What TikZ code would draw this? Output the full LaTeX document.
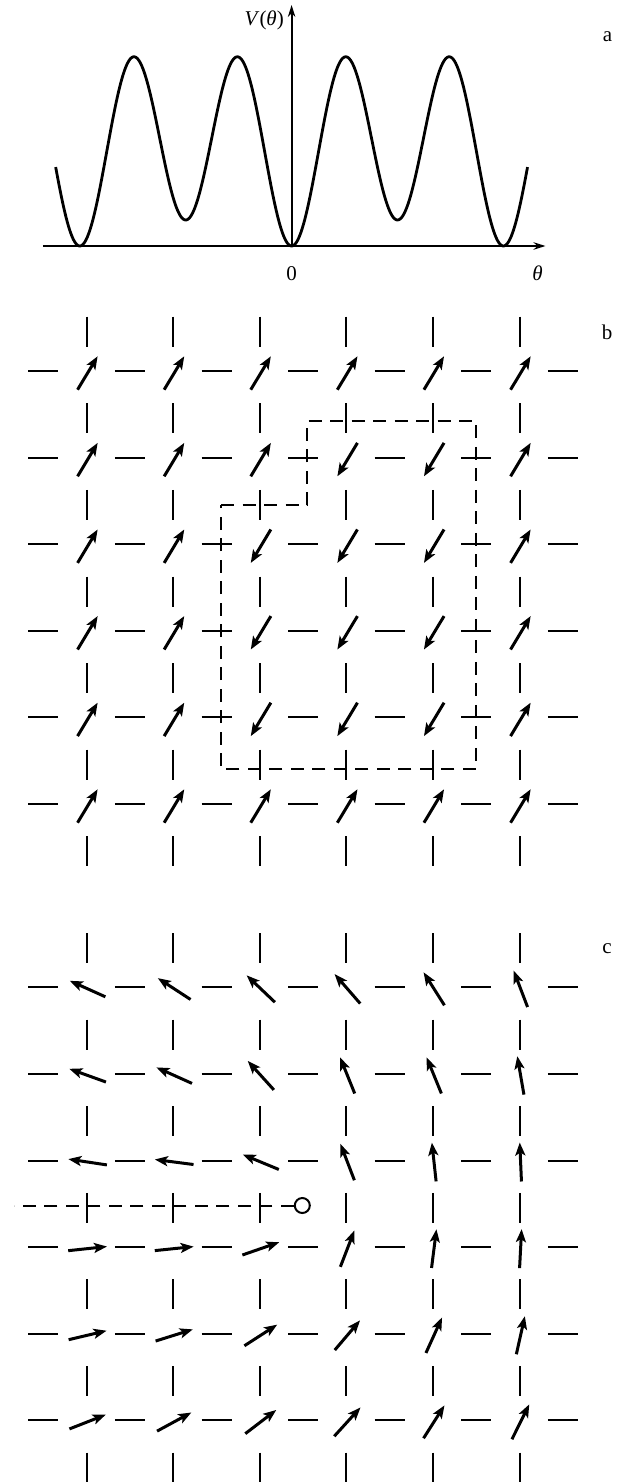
\documentclass[tikz,border=0pt]{standalone}
\usepackage{fontspec}
\setmainfont{Liberation Serif}
\usetikzlibrary{arrows.meta}
\begin{document}
\begin{tikzpicture}[x=1pt,y=-1pt,
  bond/.style={line width=2pt},
  spin/.style={line width=3pt,-{Stealth[length=13pt,width=10pt,inset=3pt]}},
  loopline/.style={line width=2pt,dash pattern=on 13pt off 8.5pt},
  axisline/.style={line width=1.8pt,-{Stealth[length=12pt,width=7.5pt]}},
  potcurve/.style={line width=2.8pt,line join=round},
  lbl/.style={font=\fontsize{21}{25}\selectfont,inner sep=0pt},
  hole/.style={circle,draw,line width=2pt,minimum size=15pt,inner sep=0pt}]
\useasboundingbox (0,0) rectangle (622,1482);
\newcommand{\spinat}[3]{\draw[spin] ({#1-19.5*cos(#3)},{#2+19.5*sin(#3)}) -- ({#1+19.5*cos(#3)},{#2-19.5*sin(#3)});}
% ---------------- panel a
\coordinate (xs) at (42.8,246);
\coordinate (xe) at (545.5,246);
\coordinate (o) at (291.6,246);
\coordinate (ye) at (291.6,5);
\draw[axisline] (xs) -- (xe);
\draw[axisline] (o) -- (ye);
\draw[potcurve] plot[domain=-401:401,samples=401] ({291.6+33.71*rad(\x)},{246-88*(1-cos(2*\x))-13*(1-cos(\x))});
\node[lbl,anchor=base east] (vlab) at (284,26) {\textit{V}(\textit{θ})};
\node[lbl,anchor=base] (zero) at (291.6,280) {0};
\node[lbl,anchor=base] (thlab) at (537.5,280) {\textit{θ}};
\node[lbl,anchor=base] (la) at (607.5,42) {a};
% ---------------- panel b
\foreach \j in {0,...,5} {
  \foreach \k in {0,...,6} \draw[bond] ({28.3+86.6*\k},{371+86.6*\j}) -- ++(30,0);
}
\foreach \i in {0,...,5} {
  \foreach \m in {0,...,6} \draw[bond] ({86.6+86.6*\i},{316.7+86.6*\m}) -- ++(0,30);
}
\foreach \angs [count=\j from 0] in {
  {59,59,59,59,59,59},
  {59,59,59,239,239,59},
  {59,59,239,239,239,59},
  {59,59,239,239,239,59},
  {59,59,239,239,239,59},
  {59,59,59,59,59,59}} {
  \foreach \a [count=\i from 0] in \angs {
    \spinat{87.6+86.6*\i}{373+86.6*\j}{\a}
  }
}
\coordinate (L1) at (221,505);
\coordinate (L2) at (307.3,505);
\coordinate (L3) at (307.3,420.7);
\coordinate (L4) at (476,420.7);
\coordinate (L5) at (476,769.3);
\coordinate (L6) at (221,769.3);
\draw[loopline] (L1) -- (L2) -- (L3) -- (L4) -- (L5) -- (L6) -- cycle;
\node[lbl,anchor=base] (lb) at (607,339) {b};
% ---------------- panel c
\foreach \j in {0,...,5} {
  \foreach \k in {0,...,6} \draw[bond] ({28.3+86.6*\k},{987.3+86.6*\j}) -- ++(30,0);
}
\foreach \i in {0,...,5} {
  \foreach \m in {0,...,6} \draw[bond] ({86.6+86.6*\i},{933+86.6*\m}) -- ++(0,30);
}
\foreach \angs [count=\j from 0] in {
  {155.8,146.9,136.4,131,122.3,110.9},
  {160.2,155.8,132.1,112,112.2,99.8},
  {171.4,172.6,157.5,111,96.2,92.5},
  {6.1,5.9,19.1,68.9,82.8,87},
  {13.3,17.4,32.8,49.6,65.6,77.4},
  {21.4,28.5,37.4,47.7,57.5,63.6}} {
  \foreach \a [count=\i from 0] in \angs {
    \spinat{87.6+86.6*\i}{988.8+86.6*\j}{\a}
  }
}
\node[hole] (hl) at (302.3,1205.5) {};
\coordinate (sstart) at (14.3,1205.5);
\draw[loopline] (hl.west) -- (sstart);
\node[lbl,anchor=base] (lc) at (607,953) {c};
\end{tikzpicture}
\end{document}
